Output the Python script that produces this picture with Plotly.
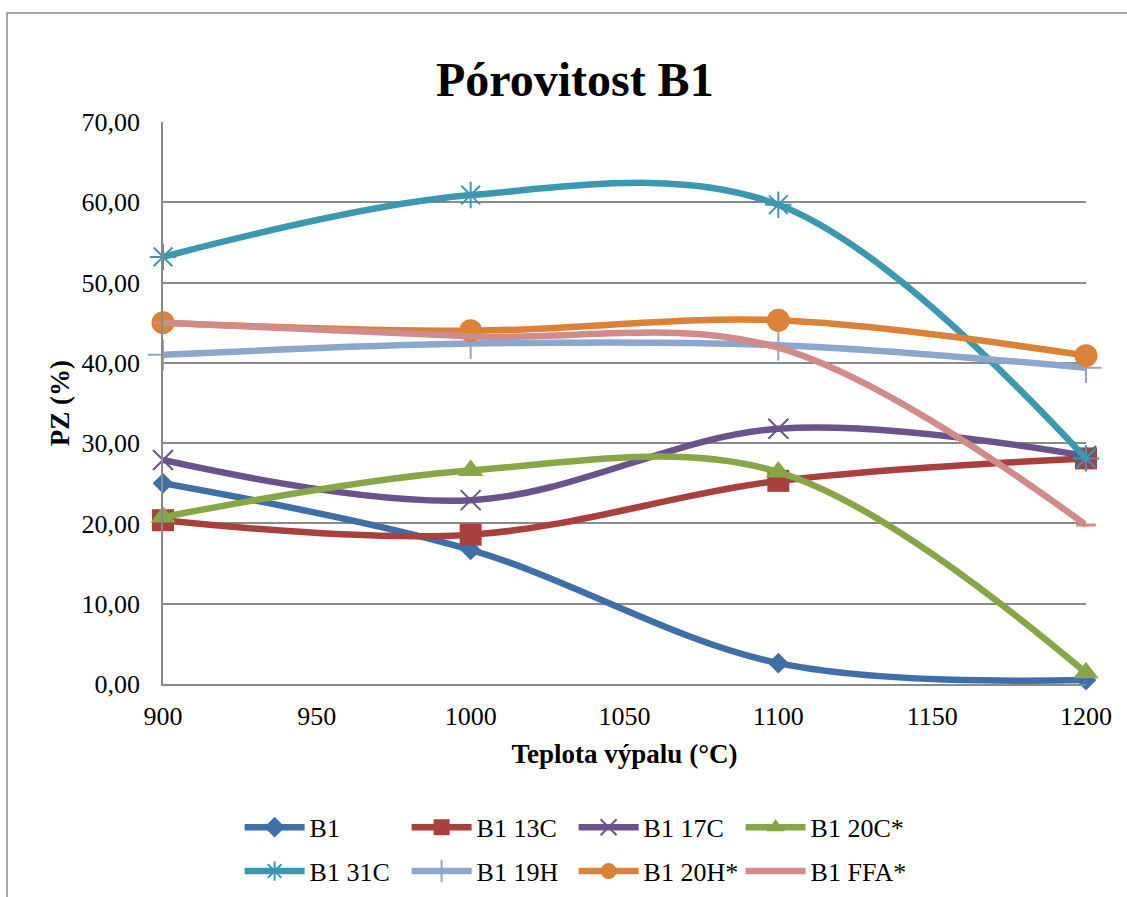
import plotly.graph_objects as go

# Firing temperatures (°C)
teploty = [900, 1000, 1100, 1200]

# Porosity PZ (%) per mixture
b1 = [25.0, 16.7, 2.6, 0.5]
b1_13c = [20.4, 18.6, 25.3, 28.1]
b1_17c = [27.9, 22.9, 31.8, 28.4]
b1_20c = [20.8, 26.6, 26.4, 1.4]
b1_31c = [53.2, 60.9, 59.7, 28.1]
b1_19h = [41.0, 42.4, 42.2, 39.4]
b1_20h = [45.0, 44.0, 45.3, 40.9]
b1_ffa = [45.0, 43.3, 41.9, 19.8]

nazvy = ["B1", "B1 13C", "B1 17C", "B1 20C*", "B1 31C", "B1 19H", "B1 20H*", "B1 FFA*"]
x_ticks = [900, 950, 1000, 1050, 1100, 1150, 1200]
y_ticks = [0, 10, 20, 30, 40, 50, 60, 70]

serie = [b1, b1_13c, b1_17c, b1_20c, b1_31c, b1_19h, b1_20h, b1_ffa]
barvy = ["#3F6FA8", "#A8403D", "#6B528C", "#86A647", "#3C97B0", "#8DA6CB", "#DB8138", "#D08B8A"]
znacky = [
    dict(symbol="diamond", size=16),
    dict(symbol="square", size=22),
    dict(symbol="x-thin", size=20, line=dict(width=2)),
    dict(symbol="triangle-up", size=22),
    dict(symbol="asterisk", size=22, line=dict(width=2)),
    dict(symbol="cross-thin", size=22, line=dict(width=2)),
    dict(symbol="circle", size=23),
    dict(symbol="line-ew", size=14, line=dict(width=3)),
]

PISMO = "Liberation Serif, Times New Roman, serif"

fig = go.Figure()
for i, (nazev, hodnoty, barva, zn) in enumerate(zip(nazvy, serie, barvy, znacky)):
    m = dict(zn)
    m["color"] = barva
    if "line" in m:
        m["line"] = dict(m["line"], color=barva)
    fig.add_trace(go.Scatter(
        x=teploty, y=hodnoty, name=nazev,
        mode="lines+markers", cliponaxis=False,
        line=dict(color=barva, width=6.5, shape="spline", smoothing=1.0),
        marker=m,
        legend="legend" if i < 4 else "legend2",
    ))

# outer chart frame
fig.add_shape(type="rect", xref="paper", yref="paper",
              x0=-0.169, y0=-0.40, x1=1.06, y1=1.194,
              line=dict(color="#8A8A8A", width=1.5), layer="below")

legend_style = dict(
    orientation="h", xanchor="left", yanchor="middle", x=0.083,
    font=dict(family=PISMO, size=26, color="#000000"),
    itemwidth=60,
    entrywidth=92, entrywidthmode="pixels",
    bgcolor="rgba(0,0,0,0)", borderwidth=0, tracegroupgap=0,
)

fig.update_layout(
    width=1127, height=897,
    margin=dict(l=163, r=41, t=122, b=213, autoexpand=False),
    paper_bgcolor="white", plot_bgcolor="white",
    separators=", ",
    font=dict(family=PISMO, size=26, color="#000000"),
    title=dict(text="<b>Pórovitost B1</b>", xref="container", x=0.51, xanchor="center",
               y=0.912, yanchor="middle",
               font=dict(family=PISMO, size=48, color="#000000")),
    legend=dict(legend_style, y=-0.255),
    legend2=dict(legend_style, y=-0.333),
    xaxis=dict(
        range=[900, 1200], tickvals=x_ticks, ticktext=[str(v) for v in x_ticks],
        showgrid=False, zeroline=False, showline=True, linecolor="#8A8A8A", linewidth=1.5,
        ticks="", ticklabelstandoff=8, tickfont=dict(family=PISMO, size=26), automargin=False,
        title=dict(text="<b>Teplota výpalu (°C)</b>", standoff=14,
                   font=dict(family=PISMO, size=27)),
    ),
    yaxis=dict(
        range=[0, 70], tickvals=y_ticks, tickformat=".2f",
        showgrid=True, gridcolor="#8A8A8A", gridwidth=1.5,
        zeroline=False, showline=True, linecolor="#8A8A8A", linewidth=1.5,
        ticks="", ticklabelstandoff=16, tickfont=dict(family=PISMO, size=26),
        automargin=False,
        title=dict(text="<b>PZ (%)</b>", standoff=4,
                   font=dict(family=PISMO, size=27)),
    ),
)

fig.write_html("out.html")
